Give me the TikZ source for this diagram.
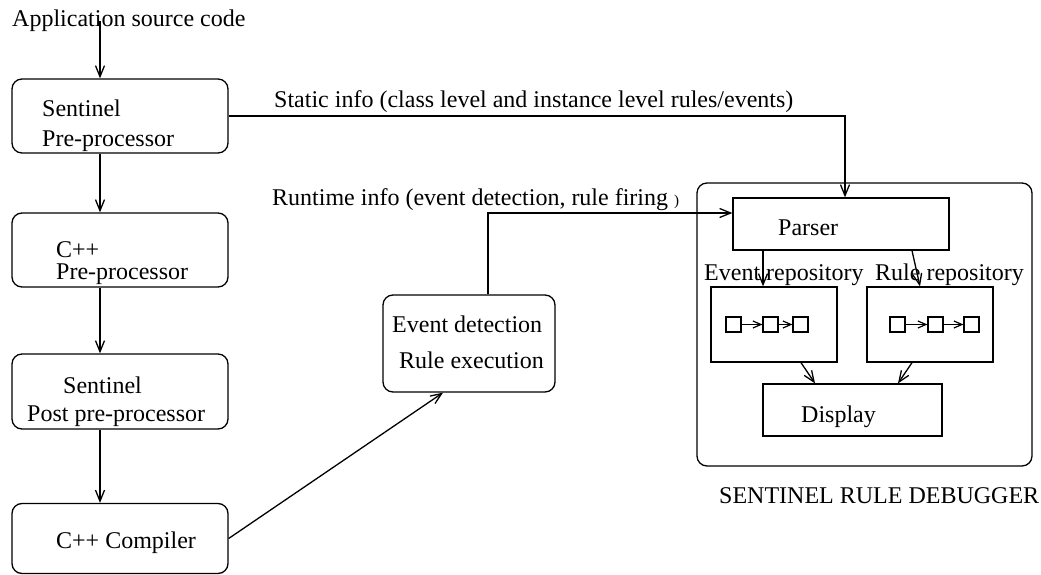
\documentclass[tikz,border=0pt]{standalone}
\usepackage{fontspec}
\setmainfont{Liberation Serif}
\usetikzlibrary{arrows.meta}

\begin{document}
\begin{tikzpicture}[x=1pt,y=-1pt]
\tikzset{
  procbox/.style={draw=black,line width=1.3pt,rounded corners=10pt,minimum width=216pt,minimum height=74pt,inner sep=0pt},
  plainbox/.style={draw=black,line width=1.3pt,inner sep=0pt},
  smallsq/.style={draw=black,line width=1.2pt,minimum size=15pt,inner sep=0pt},
  txt/.style={inner sep=0pt,font=\fontsize{24}{28.8}\selectfont},
  flow/.style={draw=black,line width=1.3pt,-{Straight Barb[length=11pt,width=9pt,line width=1.3pt]}},
  tinyflow/.style={draw=black,line width=1.2pt,-{Straight Barb[length=8pt,width=7pt,line width=1.2pt]}}
}
\useasboundingbox (0,0) rectangle (1041,575);
\node[procbox] (pre) at (120,116) {};
\node[procbox] (cpp) at (120,250) {};
\node[procbox,minimum height=75pt] (post) at (120,391.5) {};
\node[procbox,minimum height=70pt] (comp) at (120,538.5) {};
\node[procbox,minimum width=172pt,minimum height=97pt] (run) at (469,343.5) {};
\node[procbox,minimum width=335pt,minimum height=283pt] (dbg) at (864.5,324.5) {};
\node[plainbox,minimum width=216pt,minimum height=52pt] (parser) at (841,224) {};
\node[plainbox,minimum width=126pt,minimum height=75pt] (evrepo) at (774,324.5) {};
\node[plainbox,minimum width=126pt,minimum height=75pt] (rulerepo) at (930,324.5) {};
\node[plainbox,minimum width=179pt,minimum height=52pt] (display) at (852.5,410) {};
\node[smallsq] (e1) at (733.5,324.5) {};
\node[smallsq] (e2) at (770.5,324.5) {};
\node[smallsq] (e3) at (800.5,324.5) {};
\node[smallsq] (r1) at (897.5,324.5) {};
\node[smallsq] (r2) at (935.5,324.5) {};
\node[smallsq] (r3) at (971.5,324.5) {};
\node[txt,anchor=base west] (t_src) at (12,27) {Application source code};
\node[txt,anchor=north west,align=left] (t_pre) at (42,99.6) {Sentinel\\[1.2pt]Pre-processor};
\node[txt,anchor=north west,align=left] (t_cpp) at (56,241.8) {C++\\[-6.8pt]Pre-processor};
\node[txt,anchor=north west,align=left] (t_post) at (27,376.6) {\hspace*{36pt}Sentinel\\[-0.8pt]Post pre-processor};
\node[txt,anchor=base west] (t_comp) at (56,548) {C++ Compiler};
\node[txt,anchor=north west,align=left] (t_run) at (392,315.6) {Event detection\\[7.2pt]\hspace*{7pt}Rule execution};
\node[txt,anchor=base west] (t_static) at (274,108) {Static info (class level and instance level rules/events)};
\node[txt,anchor=base west] (t_runtime) at (272,205) {Runtime info (event detection, rule firing {\fontsize{15}{15}\selectfont)}};
\node[txt,anchor=base west] (t_parser) at (778,235) {Parser};
\node[txt,anchor=base west] (t_evlabel) at (704,280) {Event repository};
\node[txt,anchor=base west] (t_rulelabel) at (875,280) {Rule repository};
\node[txt,anchor=base west] (t_display) at (801,422) {Display};
\node[txt,anchor=base west] (t_dbg) at (719,503) {SENTINEL RULE DEBUGGER};
\coordinate (srcpt) at (100,21);
\draw[flow] (srcpt) -- (srcpt |- pre.north);
\draw[flow] ([xshift=-20pt]pre.south) -- ([xshift=-20pt]cpp.north);
\draw[flow] ([xshift=-20pt]cpp.south) -- ([xshift=-20pt]post.north);
\draw[flow] ([xshift=-20pt]post.south) -- ([xshift=-20pt]comp.north);
\draw[flow] (comp.east) -- ([xshift=-26pt]run.south);
\draw[flow] (pre.east) -| ([xshift=4pt]parser.north);
\draw[flow] ([xshift=19pt]run.north) |- ([yshift=11pt]parser.west);
\draw[flow] ([xshift=-78pt]parser.south) -- ([xshift=-11pt]evrepo.north);
\draw[flow] ([xshift=71pt]parser.south) -- ([xshift=-10pt]rulerepo.north);
\draw[flow] ([xshift=27pt]evrepo.south) -- ([xshift=-37.5pt]display.north);
\draw[flow] ([xshift=-18pt]rulerepo.south) -- ([xshift=45.5pt]display.north);
\draw[tinyflow] (e1) -- (e2);
\draw[tinyflow] (e2) -- (e3);
\draw[tinyflow] (r1) -- (r2);
\draw[tinyflow] (r2) -- (r3);
\end{tikzpicture}
\end{document}
